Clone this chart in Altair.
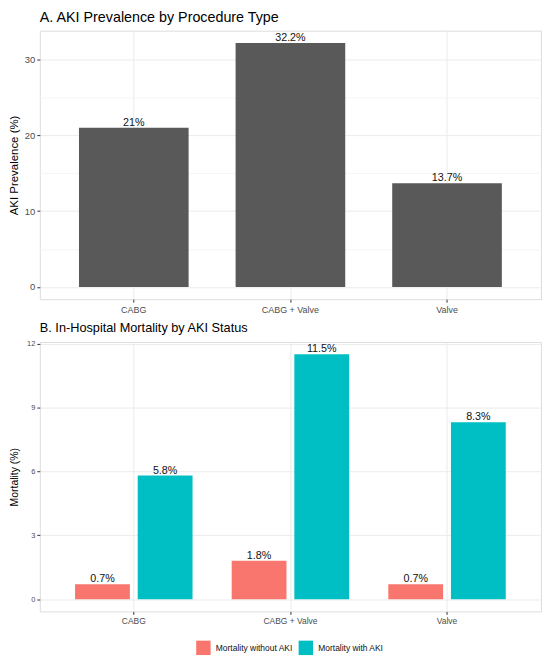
import altair as alt
import pandas as pd

procedures = ["CABG", "CABG + Valve", "Valve"]
aki_prevalence = [21.0, 32.2, 13.7]

groups = ["Mortality without AKI", "Mortality with AKI"]
mort_without_aki = [0.7, 1.8, 0.7]
mort_with_aki = [5.8, 11.5, 8.3]

colors = ["#F8766D", "#00BFC4"]
FONT = "Liberation Sans"

df_a = pd.DataFrame({
    "procedure": procedures,
    "prev": aki_prevalence,
    "label": [f"{v:g}%" for v in aki_prevalence],
})

rows = []
for p, a, b in zip(procedures, mort_without_aki, mort_with_aki):
    rows.append({"procedure": p, "group": groups[0], "mort": a, "label": f"{a:g}%"})
    rows.append({"procedure": p, "group": groups[1], "mort": b, "label": f"{b:g}%"})
df_b = pd.DataFrame(rows)

W = 504
HA = 270
HB = 271

# ---------- Panel A ----------
ya_max = max(aki_prevalence)
ya_dom = [-0.05 * ya_max, ya_max * 1.05]

xA = alt.X("procedure:N", sort=procedures, title=None,
           scale=alt.Scale(paddingInner=0.3, paddingOuter=0.25),
           axis=alt.Axis(labelAngle=0, labelFont=FONT, labelFontSize=9, labelColor="#4D4D4D",
                         tickColor="#333333", tickSize=3, labelPadding=3, domain=False,
                         grid=True, gridColor="#EBEBEB", bandPosition=0.5))
yA = alt.Y("prev:Q", title="AKI Prevalence (%)",
           scale=alt.Scale(domain=ya_dom, nice=False, zero=False),
           axis=alt.Axis(values=[0, 5, 10, 15, 20, 25, 30],
                         labelExpr="datum.value % 10 === 0 ? datum.label : ''",
                         gridColor={"condition": {"test": "datum.value % 10 === 0", "value": "#EBEBEB"}, "value": "#F5F5F5"},
                         tickOpacity={"condition": {"test": "datum.value % 10 === 0", "value": 1}, "value": 0},
                         tickColor="#333333", tickSize=3, labelPadding=2,
                         labelFont=FONT, labelFontSize=9.5, labelColor="#4D4D4D",
                         titleFont=FONT, titleFontSize=11.5, titleFontWeight="normal", titleColor="#000000",
                         titleBaseline="middle", titleX=-25, domain=False))

bars_a = alt.Chart(df_a).mark_bar(color="#595959").encode(x=xA, y=yA)
text_a = alt.Chart(df_a).mark_text(font=FONT, fontSize=10.8, color="#111111",
                                   baseline="alphabetic", dy=-2).encode(
    x=alt.X("procedure:N", sort=procedures), y="prev:Q", text="label:N")

chart_a = alt.layer(bars_a, text_a).properties(
    width=W, height=HA,
    title=alt.TitleParams("A. AKI Prevalence by Procedure Type", anchor="start", frame="group",
                          font=FONT, fontSize=14.4, fontWeight="normal", color="#000000", offset=5),
)

# ---------- Panel B ----------
yb_max = max(mort_with_aki)
yb_dom = [-0.05 * yb_max, yb_max * 1.05]

xB = alt.X("procedure:N", sort=procedures, title=None,
           scale=alt.Scale(paddingInner=0, paddingOuter=0.1),
           axis=alt.Axis(labelAngle=0, labelFont=FONT, labelFontSize=8.5, labelColor="#4D4D4D",
                         tickColor="#333333", tickSize=3, labelPadding=2, domain=False,
                         grid=True, gridColor="#EBEBEB", bandPosition=0.5))
yB = alt.Y("mort:Q", title="Mortality (%)",
           scale=alt.Scale(domain=yb_dom, nice=False, zero=False),
           axis=alt.Axis(values=[0, 1.5, 3, 4.5, 6, 7.5, 9, 10.5, 12],
                         labelExpr="datum.value % 3 === 0 ? datum.label : ''",
                         gridColor={"condition": {"test": "datum.value % 3 === 0", "value": "#EBEBEB"}, "value": "#F5F5F5"},
                         tickOpacity={"condition": {"test": "datum.value % 3 === 0", "value": 1}, "value": 0},
                         tickColor="#333333", tickSize=3, labelPadding=2,
                         labelFont=FONT, labelFontSize=7.5, labelColor="#4D4D4D",
                         titleFont=FONT, titleFontSize=10.5, titleFontWeight="normal", titleColor="#000000",
                         titleBaseline="middle", titleX=-25, domain=False))
xoff = alt.XOffset("group:N", sort=groups,
                   scale=alt.Scale(paddingInner=0.125, paddingOuter=0.3125))
colorB = alt.Color("group:N", sort=groups, title=None,
                   scale=alt.Scale(domain=groups, range=colors),
                   legend=alt.Legend(orient="none", direction="horizontal", legendX=157, legendY=613,
                                     symbolType="square", symbolSize=210, symbolStrokeWidth=0,
                                     labelFont=FONT, labelFontSize=8.5, labelColor="#111111",
                                     labelOffset=5, columnPadding=5))

bars_b = alt.Chart(df_b).mark_bar().encode(x=xB, xOffset=xoff, y=yB, color=colorB)
text_b = alt.Chart(df_b).mark_text(font=FONT, fontSize=10.8, color="#111111",
                                   baseline="alphabetic", dy=-2).encode(
    x=alt.X("procedure:N", sort=procedures), xOffset=xoff, y="mort:Q", text="label:N")

chart_b = alt.layer(bars_b, text_b).properties(
    width=W, height=HB,
    title=alt.TitleParams("B. In-Hospital Mortality by AKI Status", anchor="start", frame="group",
                          font=FONT, fontSize=12.8, fontWeight="normal", color="#000000", offset=5),
)

chart = alt.vconcat(chart_a, chart_b, spacing=43, bounds="flush").resolve_scale(
    x="independent", y="independent", xOffset="independent"
).properties(
    padding={"left": 0, "top": 0, "right": 0, "bottom": 0}
).configure_view(stroke="#555555", strokeWidth=1).configure(background="white")

chart.save("out.html", embed_options={"renderer": "svg", "actions": False})
